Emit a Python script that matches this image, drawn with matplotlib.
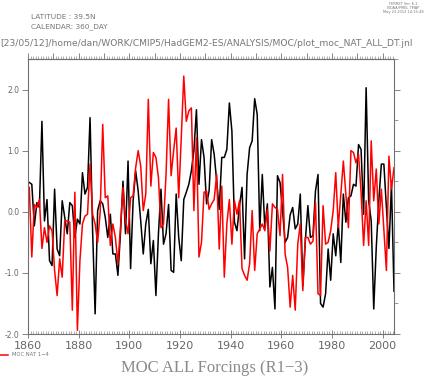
import numpy as np
import matplotlib
matplotlib.use('Agg')
import matplotlib.pyplot as plt
from matplotlib.ticker import MultipleLocator

# annual means, plotted at mid-year
years = np.arange(1860, 2005) + 0.5

moc_all = [
    # 1860-1889
    0.48, 0.45, -0.23, 0.15, 0.07, 1.48, -0.15, 0.2, -0.8, -0.88,
    0.37, -0.61, -0.72, 0.18, -0.09, -0.36, 0.15, 0.1, -0.42, -0.12,
    -0.2, 0.64, 0.29, 0.4, 1.54, -0.3, -1.67, 0.02, 0.18, 0.13,
    # 1890-1917
    -0.09, -0.42, -0.04, -0.69, -0.69, -1.04, -0.36, 0.5, -0.36, 0.83,
    -0.93, 0.18, 0.67, 0.34, -0.15, -0.69, -0.2, 0.04, -0.85, -0.47,
    -1.37, -0.36, 0.37, -0.53, -0.36, 0.12, -0.96, -0.99,
    # 1918-1945
    0.29, -0.42, -0.8, 0.2, 0.32, 0.45, 0.67, 1.0, 1.67, 0.45,
    1.18, 0.89, 0.13, 0.34, 1.18, 0.94, 0.5, 0.04, 0.89, 0.89,
    1.02, 1.78, 1.32, -0.17, -0.31, 0.1, 0.4, -0.77,
    # 1946-1974
    0.61, 1.05, 1.16, 1.85, 1.59, -0.31, 0.61, -0.26, 0.13, -1.23,
    -0.91, -1.59, 0.59, 0.48, 0.02, -0.5, -0.42, -0.05, 0.07, -0.28,
    -0.2, 0.29, -1.21, -0.47, 0.1, -0.42, -0.39, 0.34, 0.61,
    # 1975-2004
    -1.5, -1.56, -1.34, -0.61, -1.12, -0.36, -0.72, -0.2, -0.83, 0.29,
    -0.17, 0.23, 0.26, 0.45, 0.42, 1.1, 1.02, -0.04, 2.03, 0.18,
    -0.15, -1.59, -0.58, 0.18, 0.78, 0.78, 0.07, -0.6, 0.45, -1.3,
]

moc_nat = [
    # 1860-1889
    0.4, -0.74, 0.12, 0.07, 0.2, -0.6, -0.26, -0.5, -0.23, -0.31,
    -0.96, -1.37, -0.77, -1.07, -0.15, -0.15, -0.17, -1.61, 0.32, -1.94,
    -0.8, -0.2, -0.07, -0.04, 0.78, -0.04, -0.2, -0.5, 0.0, 1.43,
    # 1890-1917
    0.23, 0.26, -0.55, -0.2, -0.42, -0.85, -0.26, 0.4, -0.15, -0.36,
    0.23, 0.26, 0.72, 1.0, 0.75, 0.02, 0.29, 1.84, 0.42, 0.97,
    0.89, 0.56, -0.26, -0.2, 0.61, 1.84, 0.59, 1.0,
    # 1918-1945
    1.37, 0.23, 1.2, 2.22, 1.48, 1.65, 1.7, 0.02, 1.21, -0.74,
    -0.5, 0.32, 0.34, 0.04, 0.13, 0.2, 0.61, -0.61, 0.42, -1.07,
    -0.2, 0.2, -0.53, 0.18, -0.04, 0.18, -0.93, -1.04,
    # 1946-1973
    -1.12, -0.85, 0.02, -0.96, -0.36, -0.28, -0.2, -0.31, 0.04, -0.64,
    0.13, 0.07, 0.04, -0.39, 0.61, -0.69, -0.91, -1.56, -1.04, -1.61,
    -0.53, -0.2, -1.29, -0.42, -0.42, -0.53, -0.48, 0.15,
    # 1974-2004
    -1.34, -1.37, 0.1, -0.53, -0.5, -0.31, 0.02, 0.64, -0.26, 0.29,
    0.83, 0.29, -0.26, 1.0, 0.97, 0.8, 0.94, 0.32, -0.55, 0.18,
    -0.55, 1.16, 0.18, 0.7, -0.2, 0.37, -0.3, -0.96, 0.91, 0.37, 0.72,
]

W, H = 428, 377
fig = plt.figure(figsize=(W / 100, H / 100), dpi=100)
ax = fig.add_axes([28 / W, 1 - 334 / H, 366 / W, 275 / H])

grey = '#707070'
ax.plot(years, moc_all, color='black', lw=1.1)
ax.plot(years, moc_nat, color='#ff0000', lw=1.1)

ax.set_xlim(1860, 2004.5)
ax.set_ylim(-2.0, 2.5)

for s in ax.spines.values():
    s.set_color(grey)
    s.set_linewidth(0.8)

# x axis: labels every 20 years, ticks every year on bottom and top
ax.xaxis.set_major_locator(MultipleLocator(20))
ax.xaxis.set_minor_locator(MultipleLocator(1))
ax.tick_params(axis='x', which='major', direction='inout', length=6, width=0.6,
               color=grey, labelsize=8, labelcolor='#666666', pad=2)
ax.tick_params(axis='x', which='minor', direction='in', length=2.5, width=0.4,
               color=grey)
ax.tick_params(axis='x', which='both', top=False)

# top ticks point outwards
secx = ax.secondary_xaxis('top')
secx.xaxis.set_major_locator(MultipleLocator(10))
secx.xaxis.set_minor_locator(MultipleLocator(1))
secx.tick_params(which='major', direction='out', length=4, width=0.6, color=grey, labeltop=False)
secx.tick_params(which='minor', direction='out', length=2.5, width=0.4, color=grey)
secx.spines['top'].set_color(grey)

ax.yaxis.set_major_locator(MultipleLocator(1.0))
ax.yaxis.set_minor_locator(MultipleLocator(0.5))
ax.yaxis.set_major_formatter(matplotlib.ticker.FormatStrFormatter('%.1f'))
ax.tick_params(axis='y', which='major', direction='out', length=4, width=0.6,
               color=grey, labelsize=5.5, labelcolor='#666666', pad=2,
               right=True)
ax.tick_params(axis='y', which='minor', direction='out', length=3, width=0.5,
               color=grey, right=True, left=False)

# header and footer texts
txt = '#777777'
fig.text(31 / W, 1 - 17 / H, 'LATITUDE : 39.5N', fontsize=5.3, color=txt, va='center')
fig.text(31 / W, 1 - 27 / H, 'CALENDAR: 360_DAY', fontsize=5.3, color=txt, va='center')
fig.text(0, 1 - 43 / H,
         '[23/05/12]/home/dan/WORK/CMIP5/HadGEM2-ES/ANALYSIS/MOC/plot_moc_NAT_ALL_DT.jnl',
         fontsize=6.6, color=txt, va='center')
fig.text(403 / W, 1 - 8 / H, 'FERRET Ver. 6.1\nNOAA/PMEL TMAP\nMay 23 2012 14:15:48',
         fontsize=2.6, color=txt, ha='center', va='center', linespacing=1.1)

fig.text(215 / W, 1 - 368 / H, 'MOC ALL Forcings (R1\u22123)', family='Liberation Serif',
         fontsize=12, color='#8a8a8a', ha='center', va='center')

fig.add_artist(plt.Line2D([0, 8 / W], [1 - 355 / H, 1 - 355 / H], color='#ff0000', lw=1.1))
fig.text(12 / W, 1 - 355 / H, 'MOC NAT 1\u22124', fontsize=3.8, color=txt, va='center')

fig.savefig('out.png', dpi=100)
